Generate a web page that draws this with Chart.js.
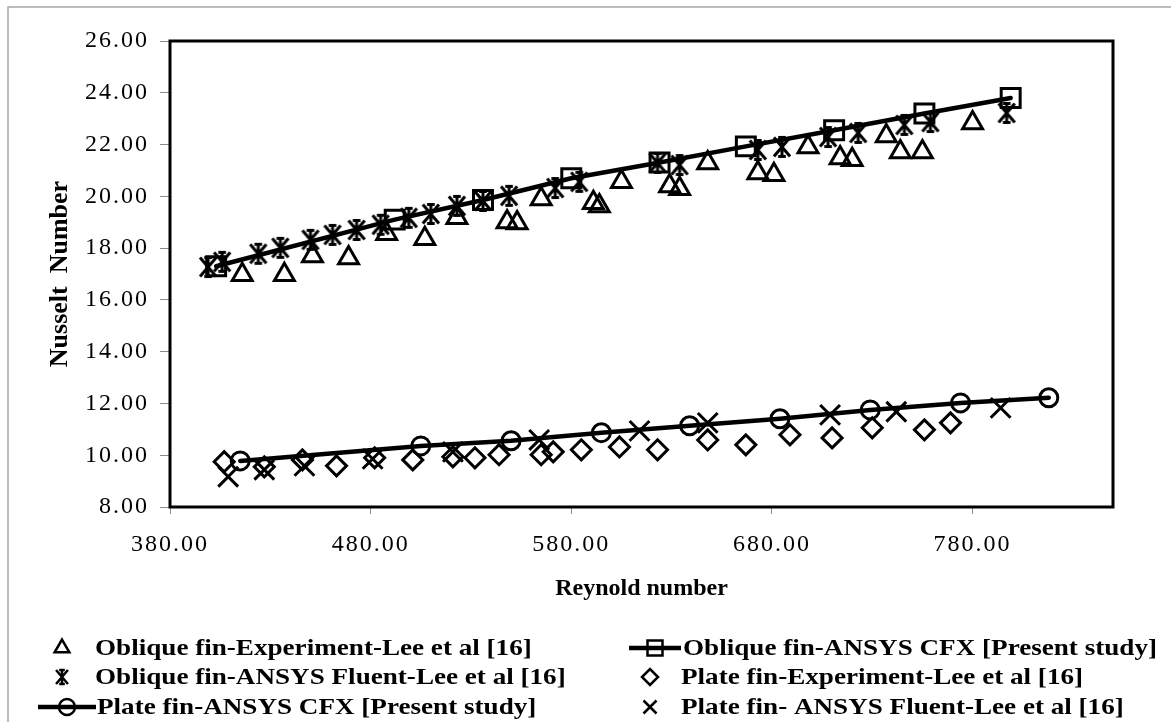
<!DOCTYPE html>
<html>
<head>
<meta charset="utf-8">
<title>Nusselt number vs Reynold number</title>
<script src="https://cdn.jsdelivr.net/npm/chart.js@4/dist/chart.umd.min.js"></script>
<style>
  html, body { margin: 0; padding: 0; background: #ffffff; }
  #wrap { position: relative; width: 1171px; height: 722px; }
  canvas { display: block; }
</style>
</head>
<body>
<div id="wrap"><canvas id="chart" width="1171" height="722"></canvas></div>
<script>
// ---- Data ----
const xTicks = [380, 480, 580, 680, 780];
const yTicks = [8, 10, 12, 14, 16, 18, 20, 22, 24, 26];

// Oblique fin - experiment (Lee et al [16])
const obliqueExpRe = [416, 437, 451, 469, 488, 507, 523, 548, 553, 565, 591, 594, 605, 629, 634, 648, 673, 681, 698, 714, 720, 737, 744, 755, 780];
const obliqueExpNu = [16.97, 16.97, 17.70, 17.62, 18.55, 18.36, 19.17, 19.01, 18.97, 19.90, 19.75, 19.63, 20.56, 20.40, 20.29, 21.29, 20.90, 20.83, 21.91, 21.48, 21.41, 22.33, 21.71, 21.71, 22.83];

// Oblique fin - ANSYS CFX (present study)
const obliqueCfxRe = [403, 492, 536, 580, 624, 667, 711, 756, 799];
const obliqueCfxNu = [17.30, 19.10, 19.86, 20.70, 21.31, 21.93, 22.55, 23.20, 23.80];

// Oblique fin - ANSYS Fluent (Lee et al [16])
const obliqueFluentRe = [399, 406, 424, 435, 450, 461, 473, 485, 499, 510, 523, 536, 549, 572, 584, 623, 634, 673, 685, 708, 723, 746, 759, 797];
const obliqueFluentNu = [17.27, 17.47, 17.78, 18.01, 18.32, 18.51, 18.70, 18.90, 19.17, 19.32, 19.63, 19.82, 20.02, 20.32, 20.56, 21.29, 21.21, 21.79, 21.91, 22.29, 22.45, 22.76, 22.87, 23.22];

// Plate fin - experiment (Lee et al [16])
const plateExpRe = [407, 427, 446, 463, 482, 501, 521, 532, 544, 565, 571, 585, 604, 623, 648, 667, 689, 710, 730, 756, 769];
const plateExpNu = [9.75, 9.55, 9.82, 9.59, 9.90, 9.82, 9.94, 9.90, 10.02, 10.02, 10.13, 10.21, 10.32, 10.21, 10.59, 10.40, 10.79, 10.67, 11.06, 10.98, 11.25];

// Plate fin - ANSYS CFX (present study)
const plateCfxRe = [415, 505, 550, 595, 639, 684, 729, 774, 818];
const plateCfxNu = [9.78, 10.36, 10.56, 10.87, 11.14, 11.41, 11.75, 12.02, 12.22];

// Plate fin - ANSYS Fluent (Lee et al [16])
const plateFluentRe = [409, 427, 447, 481, 521, 564, 614, 648, 709, 742, 794];
const plateFluentNu = [9.17, 9.44, 9.59, 9.86, 10.13, 10.59, 10.94, 11.25, 11.56, 11.68, 11.83];

const toPoints = (xs, ys) => xs.map((x, i) => ({ x: x, y: ys[i] }));

// ---- Marker images ----
function asteriskPath(g, x, y, r) {
  g.moveTo(x - r * 0.85, y - r); g.lineTo(x + r * 0.85, y + r);
  g.moveTo(x + r * 0.85, y - r); g.lineTo(x - r * 0.85, y + r);
  g.moveTo(x, y - r); g.lineTo(x, y + r);
  g.moveTo(x - r * 0.4, y - r); g.lineTo(x + r * 0.4, y - r);
  g.moveTo(x - r * 0.4, y + r); g.lineTo(x + r * 0.4, y + r);
}
function asteriskMarker(r, lw) {
  const s = Math.ceil(2 * r + lw + 2);
  const c = document.createElement('canvas');
  c.width = s; c.height = s;
  const g = c.getContext('2d');
  g.strokeStyle = '#000';
  g.lineWidth = lw;
  g.beginPath();
  asteriskPath(g, s / 2, s / 2, r);
  g.stroke();
  return c;
}
const starPlot = asteriskMarker(9.5, 3);

const SERIF = '"Liberation Serif", "Times New Roman", serif';

const datasets = [
  {
    label: 'Oblique fin-Experiment-Lee et al [16]',
    data: toPoints(obliqueExpRe, obliqueExpNu),
    pointStyle: 'triangle', pointRadius: 11.5, pointBorderWidth: 3,
    borderColor: '#000', backgroundColor: 'rgba(0,0,0,0)', showLine: false,
    legendMarker: 'triangle', legendLine: false
  },
  {
    label: 'Oblique fin-ANSYS CFX [Present study]',
    data: toPoints(obliqueCfxRe, obliqueCfxNu),
    pointStyle: 'rect', pointRadius: 13.4, pointBorderWidth: 3,
    borderColor: '#000', backgroundColor: 'rgba(0,0,0,0)', showLine: true,
    borderWidth: 4.5, tension: 0,
    legendMarker: 'rect', legendLine: true
  },
  {
    label: 'Oblique fin-ANSYS Fluent-Lee et al [16]',
    data: toPoints(obliqueFluentRe, obliqueFluentNu),
    pointStyle: starPlot, pointRadius: 10,
    borderColor: '#000', backgroundColor: 'rgba(0,0,0,0)', showLine: false,
    legendMarker: 'asterisk', legendLine: false
  },
  {
    label: 'Plate fin-Experiment-Lee et al [16]',
    data: toPoints(plateExpRe, plateExpNu),
    pointStyle: 'rectRot', pointRadius: 10, pointBorderWidth: 3,
    borderColor: '#000', backgroundColor: 'rgba(0,0,0,0)', showLine: false,
    legendMarker: 'rectRot', legendLine: false
  },
  {
    label: 'Plate fin-ANSYS CFX [Present study]',
    data: toPoints(plateCfxRe, plateCfxNu),
    pointStyle: 'circle', pointRadius: 9, pointBorderWidth: 3,
    borderColor: '#000', backgroundColor: 'rgba(0,0,0,0)', showLine: true,
    borderWidth: 4.5, tension: 0,
    legendMarker: 'circle', legendLine: true
  },
  {
    label: 'Plate fin- ANSYS Fluent-Lee et al [16]',
    data: toPoints(plateFluentRe, plateFluentNu),
    pointStyle: 'crossRot', pointRadius: 14, pointBorderWidth: 3,
    borderColor: '#000', backgroundColor: 'rgba(0,0,0,0)', showLine: false,
    legendMarker: 'cross', legendLine: false
  }
];

// ---- Plugins ----
// Outer chart border and the heavy plot-area frame
const framePlugin = {
  id: 'frame',
  beforeDraw(chart) {
    const ctx = chart.ctx;
    ctx.save();
    ctx.strokeStyle = '#a6a6a6';
    ctx.lineWidth = 1.5;
    ctx.strokeRect(8, 7, 1180, 740);
    ctx.restore();
    ctx.letterSpacing = '0px';
  },
  afterDatasetsDraw(chart) {
    const ctx = chart.ctx;
    const a = chart.chartArea;
    ctx.save();
    ctx.strokeStyle = '#000';
    ctx.lineWidth = 3;
    ctx.strokeRect(a.left, a.top, a.right - a.left, a.bottom - a.top);
    ctx.restore();
    // wide-set tick numerals
    ctx.letterSpacing = '2px';
  }
};

function drawLegendMarker(ctx, kind, x, y) {
  ctx.beginPath();
  if (kind === 'triangle') {
    const r = 8.5;
    ctx.moveTo(x, y - r);
    ctx.lineTo(x + r * 0.866, y + r / 2);
    ctx.lineTo(x - r * 0.866, y + r / 2);
    ctx.closePath();
  } else if (kind === 'rect') {
    const h = 7.5;
    ctx.rect(x - h, y - h, 2 * h, 2 * h);
  } else if (kind === 'rectRot') {
    const r = 8;
    ctx.moveTo(x - r, y); ctx.lineTo(x, y - r); ctx.lineTo(x + r, y); ctx.lineTo(x, y + r);
    ctx.closePath();
  } else if (kind === 'circle') {
    ctx.arc(x, y, 8, 0, Math.PI * 2);
  } else if (kind === 'cross') {
    const r = 6.5;
    ctx.moveTo(x - r, y - r); ctx.lineTo(x + r, y + r);
    ctx.moveTo(x + r, y - r); ctx.lineTo(x - r, y + r);
  } else if (kind === 'asterisk') {
    asteriskPath(ctx, x, y, 7);
  }
  ctx.stroke();
}

// Two-column legend below the axis title
const legendPlugin = {
  id: 'twoColLegend',
  afterDraw(chart) {
    const ctx = chart.ctx;
    const cols = [{ marker: 62, lineFrom: 38, lineTo: 96, text: 95 }, { marker: 650, lineFrom: 629, lineTo: 681, text: 681 }];
    const rows = [648, 677, 707];
    ctx.save();
    ctx.letterSpacing = '0px';
    ctx.font = 'bold 24px ' + SERIF;
    ctx.textBaseline = 'middle';
    ctx.textAlign = 'left';
    ctx.fillStyle = '#000';
    ctx.strokeStyle = '#000';
    const ref = ctx.measureText('Oblique fin-ANSYS CFX [Present study]').width;
    const sx = 474 / ref;
    chart.data.datasets.forEach((ds, i) => {
      const col = cols[i % 2];
      const y = rows[Math.floor(i / 2)];
      let mx = col.marker;
      if (ds.legendLine) {
        ctx.lineWidth = 4.5;
        ctx.beginPath();
        ctx.moveTo(col.lineFrom, y); ctx.lineTo(col.lineTo, y);
        ctx.stroke();
        mx = (col.lineFrom + col.lineTo) / 2;
      }
      ctx.lineWidth = 2.5;
      drawLegendMarker(ctx, ds.legendMarker, mx, y);
      ctx.save();
      ctx.translate(col.text + (ds.legendLine ? 2 : 0), y + 1);
      ctx.scale(sx, 1);
      ctx.fillText(ds.label, 0, 0);
      ctx.restore();
    });
    ctx.restore();
  }
};

// ---- Chart ----
const tickFont = { family: SERIF, size: 24 };

new Chart(document.getElementById('chart'), {
  type: 'scatter',
  data: { datasets: datasets },
  options: {
    responsive: false,
    devicePixelRatio: 1,
    animation: false,
    events: [],
    layout: { padding: { left: 0, right: 58, top: 41, bottom: 115 } },
    plugins: { legend: { display: false }, tooltip: { enabled: false } },
    elements: { line: { borderCapStyle: 'round', borderJoinStyle: 'round' } },
    scales: {
      x: {
        type: 'linear',
        min: 380, max: 850,
        afterBuildTicks(scale) { scale.ticks = xTicks.map(v => ({ value: v })); },
        afterFit(scale) { scale.height = 100; },
        grid: { display: true, drawOnChartArea: false, drawTicks: true, tickLength: 7, color: '#8c8c8c', lineWidth: 1 },
        border: { display: true, color: '#444', width: 1 },
        ticks: { z: 1, font: tickFont, color: '#000', padding: 16, maxRotation: 0,
                 callback: v => Number(v).toFixed(2) },
        title: { display: true, text: 'Reynold number', color: '#000',
                 font: { family: SERIF, size: 24, weight: 'bold', lineHeight: 1.2 },
                 padding: { top: 0, bottom: 4 } }
      },
      y: {
        type: 'linear',
        min: 8, max: 26,
        afterBuildTicks(scale) { scale.ticks = yTicks.map(v => ({ value: v })); },
        afterFit(scale) { scale.width = 170; },
        grid: { display: true, drawOnChartArea: false, drawTicks: true, tickLength: 10, color: '#8c8c8c', lineWidth: 1 },
        border: { display: true, color: '#444', width: 1 },
        ticks: { z: 1, font: tickFont, color: '#000', padding: 11,
                 callback: v => Number(v).toFixed(2) },
        title: { display: true, text: 'Nusselt  Number', color: '#000',
                 font: { family: SERIF, size: 26, weight: 'bold', lineHeight: 1.2 },
                 padding: { top: 45, bottom: 0 } }
      }
    }
  },
  plugins: [framePlugin, legendPlugin]
});
</script>
</body>
</html>
